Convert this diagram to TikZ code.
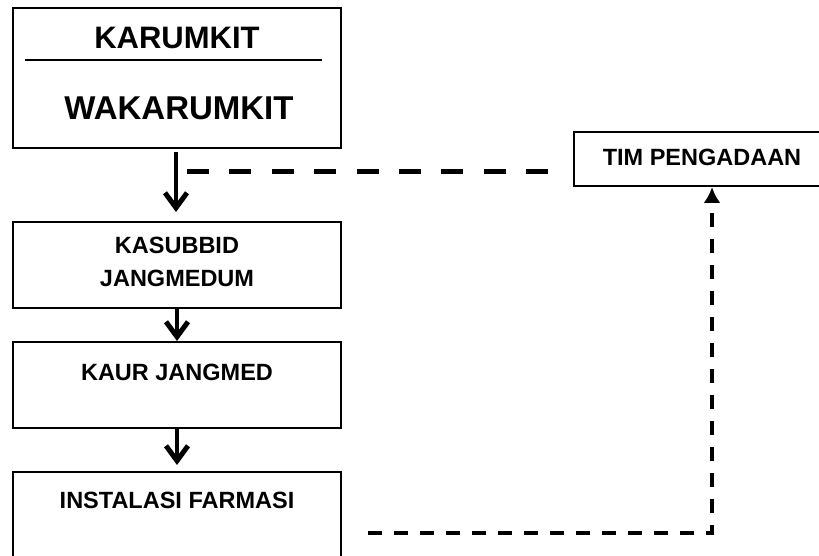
\documentclass[tikz,border=0pt]{standalone}
\usepackage{fontspec}
\setmainfont{Liberation Sans}
\usetikzlibrary{arrows.meta}

\tikzset{
  kotak/.style={draw, line width=2pt, inner sep=0pt},
  judul/.style={font=\bfseries\fontsize{23.5}{33}\selectfont, align=center, inner sep=0pt},
  panah/.style={line width=3.5pt, -{Straight Barb[length=15pt,width=22pt,line width=5pt]}},
  putus/.style={line width=5pt, dash pattern=on 22pt off 20.4pt},
  putuskecil/.style={line width=4pt, dash pattern=on 14pt off 12pt}
}

\begin{document}
\begin{tikzpicture}[x=1pt,y=-1pt]
\useasboundingbox (0,0) rectangle (819,556);
\clip (0,0) rectangle (819,556);

% kotak struktur
\node[kotak, minimum width=328pt, minimum height=140pt] (pimpinan) at (177,78) {};
\node[kotak, minimum width=328pt, minimum height=86pt] (kasubbid) at (177,265) {};
\node[kotak, minimum width=328pt, minimum height=86pt] (kaur) at (177,385) {};
\node[kotak, minimum width=328pt, minimum height=110pt] (instalasi) at (177,527) {};
\node[kotak, minimum width=256pt, minimum height=54pt] (tim) at (702,159) {};

\node[judul, font=\bfseries\fontsize{31}{36}\selectfont] (karumkit) at (177,38) {KARUMKIT};
\node[judul, font=\bfseries\fontsize{33}{38}\selectfont] (wakarumkit) at (179,108) {WAKARUMKIT};
\draw[line width=2.5pt] (25,60) -- (322,60);

\node[judul] (tkasubbid) at (177,261.5) {KASUBBID\\JANGMEDUM};
\node[judul] (tkaur) at (177,372) {KAUR JANGMED};
\node[judul] (tinstalasi) at (177,500) {INSTALASI FARMASI};
\node[judul] (ttim) at (702,157) {TIM PENGADAAN};

% alur
\coordinate (a1) at (176,152);
\coordinate (b1) at (176,212);
\draw[panah] (a1) -- (b1);
\draw[panah] (kasubbid.south) -- (kaur.north);
\coordinate (b3) at (177,465);
\draw[panah] (kaur.south) -- (b3);

\coordinate (d1) at (187,172);
\coordinate (d2) at (548,172);
\draw[putus] (d1) -- (d2);

\coordinate (e1) at (368,533);
\coordinate (e2) at (712,533);
\draw[putuskecil, -{Latex[length=16pt,width=17pt]}] (e1) -- (e2) -- (tim.south -| e2);

\end{tikzpicture}
\end{document}
